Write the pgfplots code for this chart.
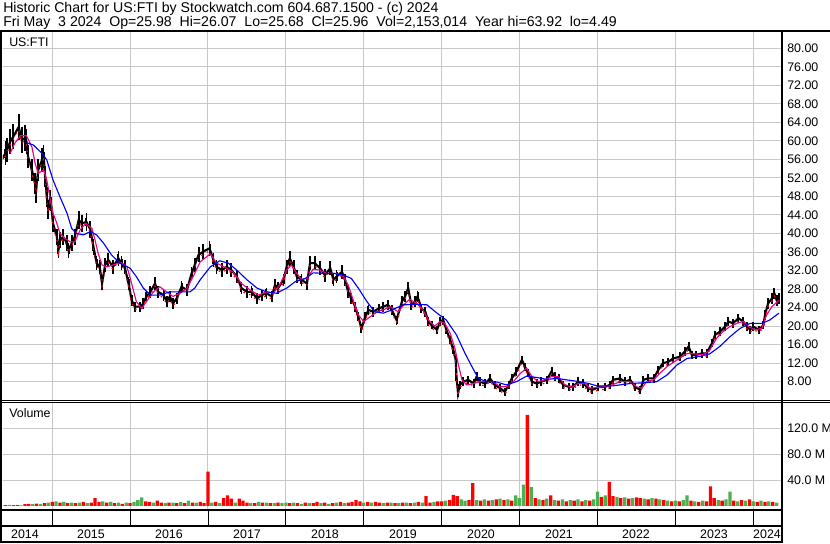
\documentclass[border=0pt]{standalone}
\usepackage{pgfplots}
\usepackage{pgfplotstable}
\pgfplotsset{compat=1.18}
\usepackage{fontspec}
\setmainfont{Liberation Sans}
\definecolor{gridgray}{RGB}{200,200,200}
\definecolor{volgreen}{RGB}{76,175,80}

\pgfplotstableread{
year close
2014.35 55.9
2014.40 57.3
2014.42 58.0
2014.46 59.8
2014.50 60.9
2014.57 63.0
2014.61 60.2
2014.65 60.6
2014.67 59.8
2014.69 56.6
2014.74 53.7
2014.78 50.8
2014.79 48.7
2014.82 53.7
2014.87 55.9
2014.89 56.6
2014.91 52.3
2014.93 47.9
2014.95 45.1
2014.97 47.2
2014.99 45.8
2015.01 42.2
2015.06 39.3
2015.08 36.4
2015.10 38.6
2015.14 39.3
2015.19 37.9
2015.21 36.4
2015.25 37.9
2015.29 39.3
2015.34 42.9
2015.38 42.2
2015.44 42.5
2015.49 40.8
2015.53 37.1
2015.57 33.6
2015.61 32.8
2015.64 29.2
2015.68 33.2
2015.72 34.3
2015.78 32.8
2015.85 34.6
2015.89 33.6
2015.93 32.8
2015.98 29.2
2016.02 25.6
2016.06 24.2
2016.13 24.2
2016.17 24.9
2016.21 26.4
2016.26 27.4
2016.32 29.2
2016.36 27.4
2016.43 26.7
2016.47 25.3
2016.51 26.4
2016.55 24.9
2016.60 26.0
2016.66 28.5
2016.73 27.8
2016.79 31.4
2016.83 33.2
2016.88 35.4
2016.94 36.1
2017.02 36.8
2017.07 34.3
2017.11 32.8
2017.18 32.1
2017.24 32.8
2017.30 32.1
2017.37 30.7
2017.43 28.2
2017.50 27.4
2017.56 27.4
2017.63 26.0
2017.69 26.7
2017.75 27.1
2017.82 26.4
2017.86 28.9
2017.90 28.2
2017.97 30.0
2018.01 32.8
2018.05 34.6
2018.10 32.8
2018.14 30.7
2018.20 30.0
2018.27 29.2
2018.31 33.6
2018.37 33.6
2018.44 32.5
2018.50 31.0
2018.57 32.5
2018.61 30.0
2018.65 30.7
2018.72 31.7
2018.76 30.0
2018.80 27.4
2018.84 26.0
2018.89 24.2
2018.93 22.0
2018.97 19.5
2019.02 22.0
2019.06 23.5
2019.12 23.1
2019.19 23.8
2019.25 24.2
2019.31 24.6
2019.36 23.5
2019.42 21.3
2019.49 25.3
2019.53 26.4
2019.57 28.2
2019.61 24.6
2019.66 25.3
2019.69 26.4
2019.74 23.8
2019.79 23.1
2019.83 21.0
2019.87 20.2
2019.94 19.2
2019.98 21.0
2020.02 21.3
2020.06 19.2
2020.11 17.0
2020.15 14.8
2020.18 12.7
2020.19 9.1
2020.21 5.5
2020.23 7.3
2020.28 8.0
2020.34 8.4
2020.41 7.6
2020.45 9.1
2020.49 8.0
2020.56 7.6
2020.62 8.7
2020.68 7.3
2020.75 6.6
2020.81 5.8
2020.86 7.3
2020.90 8.7
2020.96 10.2
2021.03 12.7
2021.07 11.2
2021.11 9.8
2021.16 8.0
2021.22 7.6
2021.28 8.0
2021.35 8.4
2021.41 10.2
2021.45 9.1
2021.50 8.7
2021.56 7.3
2021.63 6.9
2021.69 6.9
2021.75 8.0
2021.82 7.6
2021.88 6.6
2021.93 6.2
2022.01 6.8
2022.10 6.9
2022.16 7.3
2022.20 8.4
2022.29 8.7
2022.35 8.0
2022.42 8.4
2022.48 6.9
2022.55 6.2
2022.59 8.4
2022.65 8.7
2022.72 8.7
2022.78 10.5
2022.84 12.0
2022.91 12.3
2022.97 13.0
2023.06 13.4
2023.12 14.5
2023.17 15.6
2023.21 13.8
2023.27 13.8
2023.34 14.1
2023.40 14.1
2023.47 16.3
2023.51 18.1
2023.57 18.8
2023.64 19.9
2023.68 21.0
2023.74 20.6
2023.81 21.7
2023.87 21.0
2023.92 19.9
2023.96 19.2
2024.00 19.9
2024.07 19.2
2024.13 20.2
2024.15 22.4
2024.19 24.9
2024.24 26.0
2024.27 27.1
2024.30 25.6
2024.33 26.0
}\price

\pgfplotstableread{
year ma
2014.46 57.3
2014.52 59.5
2014.59 61.1
2014.67 61.1
2014.74 58.7
2014.78 55.2
2014.82 53.0
2014.89 53.7
2014.93 51.6
2014.97 47.9
2015.01 44.4
2015.06 42.2
2015.10 40.0
2015.16 39.0
2015.23 38.2
2015.29 38.2
2015.36 40.8
2015.43 42.2
2015.51 41.1
2015.55 38.6
2015.59 35.7
2015.64 33.2
2015.70 32.8
2015.78 33.2
2015.89 33.7
2015.96 32.8
2016.02 29.2
2016.08 25.3
2016.15 23.8
2016.21 25.3
2016.30 27.4
2016.38 28.5
2016.47 27.4
2016.55 26.4
2016.64 27.1
2016.73 28.2
2016.81 30.7
2016.90 33.9
2017.03 35.6
2017.11 33.6
2017.24 32.5
2017.32 31.7
2017.43 29.2
2017.54 27.8
2017.65 26.7
2017.75 27.4
2017.84 27.1
2017.92 28.9
2018.01 32.1
2018.07 33.2
2018.14 31.4
2018.20 30.1
2018.27 30.3
2018.35 32.3
2018.44 32.1
2018.52 31.4
2018.65 31.4
2018.74 30.7
2018.80 28.9
2018.87 25.3
2018.93 22.4
2019.00 21.0
2019.08 22.0
2019.17 23.1
2019.25 23.5
2019.34 24.2
2019.44 23.1
2019.53 24.9
2019.59 25.8
2019.68 24.9
2019.76 23.5
2019.83 21.3
2019.91 20.0
2019.98 21.0
2020.04 20.6
2020.11 18.4
2020.17 15.2
2020.21 12.0
2020.26 8.4
2020.32 7.3
2020.41 7.6
2020.49 8.0
2020.58 8.0
2020.66 8.0
2020.75 6.9
2020.83 6.9
2020.92 8.0
2021.01 9.8
2021.09 10.9
2021.16 9.1
2021.24 8.0
2021.33 8.4
2021.41 9.1
2021.50 9.1
2021.58 7.3
2021.67 6.8
2021.75 7.6
2021.84 7.6
2021.90 6.6
2022.03 6.8
2022.16 7.1
2022.29 8.0
2022.42 8.0
2022.50 6.9
2022.57 6.6
2022.63 8.0
2022.72 8.4
2022.80 9.8
2022.89 11.2
2023.02 12.7
2023.15 14.1
2023.25 14.0
2023.36 13.8
2023.44 14.8
2023.53 17.4
2023.61 18.8
2023.70 19.9
2023.79 20.6
2023.87 21.0
2023.94 19.9
2024.02 19.2
2024.11 19.5
2024.17 22.4
2024.24 24.2
2024.33 25.6
}\mashort

\pgfplotstableread{
year ma
2014.67 59.6
2014.76 59.1
2014.87 57.3
2014.93 55.9
2015.01 51.6
2015.10 47.9
2015.19 44.4
2015.25 41.1
2015.31 40.0
2015.40 39.7
2015.49 40.4
2015.57 39.7
2015.66 37.9
2015.76 35.4
2015.87 33.6
2016.00 32.5
2016.08 30.7
2016.17 28.2
2016.26 26.7
2016.38 26.7
2016.51 27.4
2016.64 27.4
2016.77 27.4
2016.83 28.2
2016.90 30.0
2017.03 32.8
2017.15 34.1
2017.26 33.6
2017.37 32.1
2017.50 30.0
2017.63 28.2
2017.75 27.4
2017.88 27.1
2018.01 28.2
2018.12 29.6
2018.25 30.3
2018.35 31.5
2018.48 31.4
2018.61 31.4
2018.74 31.0
2018.84 30.3
2018.93 28.2
2019.04 25.3
2019.14 23.1
2019.25 22.8
2019.36 23.5
2019.51 24.6
2019.68 24.7
2019.81 24.6
2019.94 22.8
2020.06 21.3
2020.19 18.1
2020.30 14.1
2020.39 11.2
2020.47 8.7
2020.58 8.0
2020.71 7.9
2020.83 7.3
2020.96 8.0
2021.09 9.2
2021.22 8.9
2021.35 8.5
2021.48 8.7
2021.60 8.4
2021.73 8.1
2021.89 7.6
2021.99 7.1
2022.20 7.1
2022.42 7.6
2022.63 7.8
2022.76 8.0
2022.89 9.4
2023.02 11.6
2023.15 13.0
2023.32 13.5
2023.44 14.0
2023.57 15.6
2023.70 17.7
2023.83 19.5
2023.96 20.6
2024.11 20.6
2024.21 21.3
2024.33 22.8
}\malong

\pgfplotstableread{
x r g
2014.35 0 1.2
2014.40 1.0 0
2014.45 0 1.5
2014.50 1.2 0
2014.55 1.0 0
2014.60 0 0.8
2014.65 2.5 0
2014.70 3.0 0
2014.75 0 2.5
2014.80 3.5 0
2014.85 0 3.0
2014.90 4.0 0
2014.95 0 5.0
2015.00 6 0
2015.05 0 7
2015.10 5 0
2015.15 0 6
2015.20 4 0
2015.25 0 5
2015.30 4 0
2015.35 0 5
2015.40 6 0
2015.45 0 4
2015.50 5 0
2015.55 12 0
2015.60 6 0
2015.65 0 7
2015.70 5 0
2015.75 0 6
2015.80 4 0
2015.85 0 5
2015.90 3 0
2015.95 0 5
2016.00 4 0
2016.05 0 6
2016.10 0 9
2016.15 0 13
2016.20 7 0
2016.25 6 0
2016.30 0 5
2016.35 8 0
2016.40 5 0
2016.45 0 4
2016.50 5 0
2016.55 0 5
2016.60 4 0
2016.65 0 6
2016.70 4 0
2016.75 0 8
2016.80 5 0
2016.85 0 5
2016.90 6 0
2016.95 4 0
2017.00 53 0
2017.05 0 5
2017.10 6 0
2017.15 0 4
2017.20 12 0
2017.25 16 0
2017.30 11 0
2017.35 0 5
2017.40 11 0
2017.45 8 0
2017.50 5 0
2017.55 0 4
2017.60 4 0
2017.65 0 6
2017.70 5 0
2017.75 0 5
2017.80 4 0
2017.85 0 4
2017.90 5 0
2017.95 0 4
2018.00 0 5
2018.05 4 0
2018.10 0 5
2018.15 4 0
2018.20 0 3
2018.25 5 0
2018.30 0 4
2018.35 4 0
2018.40 6 0
2018.45 0 4
2018.50 5 0
2018.55 0 3
2018.60 4 0
2018.65 0 5
2018.70 6 0
2018.75 0 4
2018.80 5 0
2018.85 6 0
2018.90 9 0
2018.95 7 0
2019.00 0 5
2019.05 6 0
2019.10 0 5
2019.15 6 0
2019.20 5 0
2019.25 0 4
2019.30 5 0
2019.35 0 5
2019.40 4 0
2019.45 0 4
2019.50 5 0
2019.55 0 5
2019.60 4 0
2019.65 0 5
2019.70 6 0
2019.75 0 5
2019.80 15 0
2019.85 5 0
2019.90 0 6
2019.95 7 0
2020.00 7 0
2020.05 0 8
2020.10 9 0
2020.15 17 0
2020.20 15 0
2020.25 0 10
2020.30 0 8
2020.35 9 0
2020.40 35 0
2020.45 0 9
2020.50 8 0
2020.55 0 10
2020.60 8 0
2020.65 0 9
2020.70 10 0
2020.75 0 11
2020.80 9 0
2020.85 0 10
2020.90 8 0
2020.95 0 16
2021.00 0 12
2021.05 0 33
2021.10 141 0
2021.15 0 29
2021.20 12 0
2021.25 0 10
2021.30 9 0
2021.35 0 11
2021.40 16 0
2021.45 0 9
2021.50 8 0
2021.55 0 10
2021.60 7 0
2021.65 0 9
2021.70 8 0
2021.75 0 10
2021.80 7 0
2021.85 0 9
2021.90 8 0
2021.95 0 10
2022.00 0 22
2022.05 14 0
2022.10 0 16
2022.15 37 0
2022.20 15 0
2022.25 0 14
2022.30 12 0
2022.35 0 13
2022.40 11 0
2022.45 0 12
2022.50 13 0
2022.55 12 0
2022.60 0 11
2022.65 10 0
2022.70 0 12
2022.75 11 0
2022.80 0 10
2022.85 9 0
2022.90 0 8
2022.95 7 0
2023.00 0 8
2023.05 7 0
2023.10 0 9
2023.15 0 16
2023.20 8 0
2023.25 0 7
2023.30 6 0
2023.35 0 8
2023.40 7 0
2023.45 30 0
2023.50 12 0
2023.55 0 9
2023.60 8 0
2023.65 0 10
2023.70 0 22
2023.75 8 0
2023.80 0 7
2023.85 9 0
2023.90 0 8
2023.95 10 0
2024.00 0 7
2024.05 6 0
2024.10 0 8
2024.15 6 0
2024.20 0 7
2024.25 6 0
2024.30 0 5
}\volume

\begin{document}
\begin{tikzpicture}[x=0.75pt,y=0.75pt,font=\fontsize{9.3}{11}\selectfont]
\path[use as bounding box] (0,0) rectangle (830,543);

% price panel
\begin{axis}[at={(2.25pt,107.25pt)}, anchor=south west, scale only axis,
  width=583.5pt, height=276pt,
  xmin=2014.3685, xmax=2024.356, ymin=4.04, ymax=83.52,
  axis line style={draw=none},
  xtick={2015,...,2024}, xticklabels={},
  ytick={8,12,...,80},
  grid=major, major grid style={gridgray, line width=0.75pt},
  major tick length=0pt,
  yticklabel pos=right,
  yticklabel style={anchor=west, inner sep=0pt, xshift=4.5pt, font=\fontsize{9.3}{11}\selectfont},
  /pgf/number format/.cd, fixed, fixed zerofill, precision=2, assume math mode=true]
\addplot[black, line width=1.6pt, mark=none,
  error bars/.cd, y dir=both, y fixed=0.9, error mark=none,
  error bar style={line width=1.5pt, black}] table[x=year, y=close] {\price};
\addplot[black, draw=none, mark=none,
  error bars/.cd, y dir=both, y fixed relative=0.045, error mark=none,
  error bar style={line width=1.3pt, black}] table[x=year, y=close] {\price};
\addplot[red, line width=0.9pt, mark=none, dash pattern=on 1.2pt off 3.6pt, yshift=-2pt] table[x=year, y=close] {\price};
\addplot[magenta, line width=0.85pt, mark=none] table[x=year, y=ma] {\mashort};
\addplot[blue, line width=0.85pt, mark=none] table[x=year, y=ma] {\malong};
\end{axis}

% volume panel
\begin{axis}[at={(2.25pt,25.5pt)}, anchor=south west, scale only axis,
  width=583.5pt, height=79.5pt,
  xmin=2014.3685, xmax=2024.356, ymin=-4.96, ymax=159.4,
  axis line style={draw=none},
  xtick={2015,...,2024}, xticklabels={},
  ytick={40,80,120}, yticklabels={40.0 M,80.0 M,120.0 M},
  grid=major, major grid style={gridgray, line width=0.75pt},
  major tick length=0pt,
  yticklabel pos=right,
  yticklabel style={anchor=west, inner sep=0pt, xshift=4.5pt, font=\fontsize{9.3}{11}\selectfont}]
\addplot[ybar, bar width=0.042, bar shift=0pt, fill=red, draw=none] table[x=x, y=r] {\volume};
\addplot[ybar, bar width=0.042, bar shift=0pt, fill=volgreen, draw=none] table[x=x, y=g] {\volume};
\end{axis}

% frame lines
\draw[line width=1.5pt] (0,512) -- (830,512);
\draw[line width=1.5pt] (1,512) -- (1,0.5);
\draw[line width=1.5pt] (781.5,512) -- (781.5,0.5);
\draw[line width=0.75pt] (0,142.3) -- (830,142.3);
\draw[line width=0.75pt] (0,140.3) -- (830,140.3);
\draw[line width=1.5pt] (0,33) -- (781.5,33);
\draw[line width=1.5pt] (0,17.3) -- (781.5,17.3);
\draw[line width=1.5pt] (0,1.5) -- (781.5,1.5);
\foreach \xx in {52.2,130.1,208.0,285.9,363.8,441.7,519.6,597.5,675.4,753.3}
  \draw[line width=0.75pt] (\xx,33) -- (\xx,17.3);
\foreach \xx/\yy in {25/2014,91/2015,169/2016,247/2017,325/2018,403/2019,481/2020,559/2021,636/2022,714/2023,767/2024}
  \node[inner sep=0pt] at (\xx,8.6) {\yy};

% texts
\node[anchor=base west, inner sep=0pt, font=\fontsize{10.6}{12}\selectfont] at (3,530.3) {Historic Chart for US:FTI by Stockwatch.com 604.687.1500 - (c) 2024};
\node[anchor=base west, inner sep=0pt, font=\fontsize{10.6}{12}\selectfont] at (3,516) {Fri May~~3 2024~~Op=25.98~~Hi=26.07~~Lo=25.68~~Cl=25.96~~Vol=2,153,014~~Year hi=63.92~~lo=4.49};
\node[anchor=west, inner sep=0pt] at (9,501) {US:FTI};
\node[anchor=west, inner sep=0pt] at (9,130) {Volume};
\end{tikzpicture}
\end{document}
